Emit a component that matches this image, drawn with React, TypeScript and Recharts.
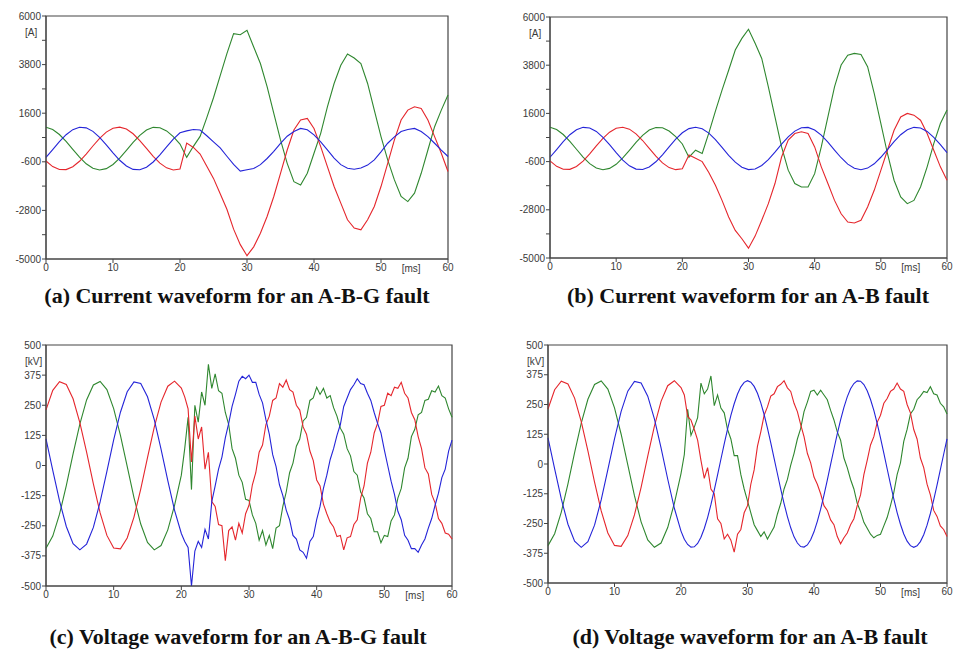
import { LineChart, Line, XAxis, YAxis, ReferenceArea } from 'recharts';

// time axes [ms]
const tCurrent = [
  0, 1, 2, 3, 4, 5, 6, 7, 8, 9, 10, 11, 12, 13, 14, 15, 16, 17, 18, 19, 20,
  21, 22, 23, 24, 25, 26, 27, 28, 29, 30, 31, 32, 33, 34, 35, 36, 37, 38, 39, 40,
  41, 42, 43, 44, 45, 46, 47, 48, 49, 50, 51, 52, 53, 54, 55, 56, 57, 58, 59, 60,
];
const tVoltage = [
  0, 1, 2, 3, 4, 5, 6, 7, 8, 9, 10, 11, 12, 13, 14, 15, 16, 17, 18, 19, 20,
  20.5, 21, 21.5, 22, 22.5, 23, 23.5, 24, 24.5, 25,
  25.5, 26, 26.5, 27, 27.5, 28, 28.5, 29, 29.5, 30,
  30.5, 31, 31.5, 32, 32.5, 33, 33.5, 34, 34.5, 35,
  35.5, 36, 36.5, 37, 37.5, 38, 38.5, 39, 39.5, 40,
  40.5, 41, 41.5, 42, 42.5, 43, 43.5, 44, 44.5, 45,
  45.5, 46, 46.5, 47, 47.5, 48, 48.5, 49, 49.5, 50,
  50.5, 51, 51.5, 52, 52.5, 53, 53.5, 54, 54.5, 55,
  55.5, 56, 56.5, 57, 57.5, 58, 58.5, 59, 59.5, 60,
];

// currents [A], pre-fault part (0..20 ms) is the same in (a) and (b)
const curPreRed = [-565, -815, -951, -954, -823, -576, -248, 115, 461, 743, 920, 968, 881, 669, 363, 7, -351, -659, -875, -968, -924];
const curPreGreen = [965, 861, 636, 322, -37, -392, -691, -893, -970, -910, -723, -434, -85, 277, 600, 838, 959, 945, 798, 540, 205];
const curPreBlue = [-402, -49, 311, 627, 856, 964, 936, 778, 510, 170, -193, -530, -792, -943, -961, -844, -609, -288, 73, 424, 715];

// (a) A-B-G fault, 21..60 ms
const aRed = [
  250, 50, -250, -800, -1350, -2050, -2750, -3650, -4350, -4850,
  -4450, -3830, -3075, -2170, -1120, -65, 840, 1290, 1365, 910,
  85, -820, -1720, -2470, -3225, -3600, -3680, -3225, -2625, -1720,
  -670, 390, 1290, 1740, 1890, 1815, 1290, 540, -215, -1040,
];
const aGreen = [
  -400, 100, 550, 1400, 2300, 3300, 4300, 5200, 5150, 5350,
  4600, 3850, 2800, 1590, 390, -670, -1500, -1650, -1120, -215,
  690, 1890, 2945, 3770, 4280, 4100, 3850, 2945, 1740, 540,
  -515, -1420, -2170, -2400, -2020, -1120, -65, 990, 1740, 2420,
];
const aBlue = [
  800, 860, 840, 580, 300, 30, -350, -720, -1020, -960,
  -900, -730, -450, -130, 230, 560, 770, 910, 850, 620,
  300, -60, -430, -730, -890, -940, -880, -750, -510, -150,
  240, 530, 770, 860, 910, 770, 540, 240, -70, -360,
];

// (b) A-B fault, 21..60 ms
const bRed = [
  -300, -450, -600, -1100, -1680, -2370, -3130, -3740, -4120, -4550,
  -4000, -3280, -2520, -1600, -390, 380, 680, 760, 680, 70,
  -840, -1600, -2370, -2980, -3360, -3400, -3280, -2670, -1910, -1000,
  -80, 830, 1440, 1600, 1520, 1290, 680, -80, -840, -1450,
];
const bGreen = [
  -400, -80, -230, 700, 1700, 2660, 3570, 4490, 5025, 5440,
  4800, 4110, 2815, 1440, 70, -990, -1600, -1760, -1760, -1150,
  70, 1440, 2815, 3810, 4260, 4340, 4290, 3730, 2510, 1140,
  -230, -1450, -2210, -2520, -2370, -1760, -840, 220, 1140, 1750,
];
const bBlue = [
  906, 970, 897, 699, 402, 49, -311, -627, -856, -964,
  -936, -778, -510, -170, 193, 530, 792, 943, 961, 844,
  609, 288, -73, -424, -715, -906, -970, -897, -699, -402,
  -49, 311, 627, 856, 964, 936, 778, 510, 170, -193,
];

// voltages [kV], pre-fault part (0..20 ms) is the same in (c) and (d)
const voltPreRed = [231, 312, 348, 336, 277, 178, 55, -76, -197, -290, -342, -346, -301, -214, -98, 33, 159, 263, 329, 350, 321];
const voltPreGreen = [-343, -293, -202, -83, 48, 172, 272, 334, 349, 315, 236, 125, -4, -133, -243, -319, -350, -332, -267, -165, -40];
const voltPreBlue = [110, -20, -147, -253, -324, -350, -326, -257, -151, -24, 106, 221, 306, 347, 340, 285, 190, 68, -63, -186, -282];

// (c) A-B-G fault, 20.5..60 ms
const cRed = [
  285, 235, 15, 205, 110, 160, -15, 55, -150, -170,
  -245, -250, -395, -270, -255, -310, -240, -280, -200, -165,
  -80, -30, 55, 85, 170, 205, 270, 280, 340, 325,
  355, 315, 305, 250, 230, 160, 130, 60, 20, -60,
  -85, -160, -200, -235, -255, -295, -290, -350, -300, -295,
  -245, -225, -135, -85, 10, 55, 135, 175, 245, 250,
  300, 290, 325, 320, 345, 300, 280, 220, 190, 120,
  70, -10, -35, -120, -155, -220, -240, -280, -285, -305,
];
const cGreen = [
  70, 200, -100, 250, 180, 305, 250, 420, 320, 380,
  310, 300, 220, 170, 70, 30, -40, -70, -140, -145,
  -205, -240, -310, -270, -330, -290, -345, -260, -250, -170,
  -110, -30, 10, 80, 110, 185, 200, 270, 280, 325,
  295, 320, 280, 290, 240, 205, 155, 130, 70, 40,
  -25, -40, -110, -135, -200, -220, -275, -275, -320, -290,
  -295, -230, -205, -135, -95, -10, 30, 120, 150, 210,
  220, 270, 275, 310, 305, 330, 290, 280, 235, 200,
];
const cBlue = [
  -315, -340, -500, -355, -315, -340, -265, -305, -150, -85,
  -15, 35, 115, 175, 245, 295, 350, 370, 360, 375,
  345, 345, 295, 260, 190, 130, 45, -5, -80, -125,
  -185, -225, -290, -305, -350, -360, -385, -315, -295, -225,
  -170, -95, -40, 25, 70, 125, 170, 245, 280, 315,
  335, 360, 340, 335, 300, 270, 220, 175, 135, 65,
  0, -65, -120, -190, -225, -290, -310, -345, -345, -360,
  -330, -305, -260, -220, -165, -115, -50, -15, 60, 105,
];

// (d) A-B fault, 20.5..60 ms
const dRed = [
  290, 200, 185, 145, 100, 15, -60, -15, -105, -125,
  -230, -250, -315, -295, -320, -370, -295, -275, -205, -175,
  -85, -25, 75, 135, 205, 240, 285, 295, 325, 335,
  350, 320, 305, 255, 220, 165, 115, 45, 5, -55,
  -85, -125, -175, -195, -235, -255, -305, -335, -310, -290,
  -255, -230, -175, -130, -45, 15, 80, 115, 175, 205,
  255, 275, 305, 315, 340, 315, 305, 250, 215, 145,
  105, 25, -15, -85, -130, -195, -220, -260, -275, -305,
];
const dGreen = [
  40, 230, 120, 155, 195, 340, 295, 315, 370, 245,
  290, 235, 215, 145, 105, 35, 35, -45, -105, -155,
  -205, -255, -280, -305, -285, -315, -290, -265, -210, -165,
  -105, -65, -5, 45, 105, 150, 220, 260, 305, 310,
  290, 310, 290, 270, 225, 185, 135, 100, 25, -15,
  -65, -105, -165, -200, -245, -270, -295, -310, -300, -295,
  -260, -225, -175, -120, -45, 5, 95, 145, 210, 230,
  270, 285, 305, 300, 325, 295, 290, 255, 240, 210,
];
const dBlue = [
  -316, -338, -349, -348, -334, -308, -271, -225, -171, -110,
  -46, 20, 85, 147, 204, 253, 294, 324, 343, 350,
  344, 326, 297, 257, 208, 151, 89, 24, -41, -106,
  -166, -221, -268, -306, -332, -347, -349, -340, -318, -285,
  -241, -190, -131, -68, -2, 63, 127, 185, 238, 282,
  316, 338, 349, 348, 334, 308, 271, 225, 171, 110,
  46, -20, -85, -147, -204, -253, -294, -324, -343, -350,
  -344, -326, -297, -257, -208, -151, -89, -24, 41, 106,
];

const xTicks = [0, 10, 20, 30, 40, 50, 60];
const currentTicks = [-5000, -3900, -2800, -1700, -600, 500, 1600, 2700, 3800, 4900, 6000];
const currentLabels = [-5000, -2800, -600, 1600, 3800, 6000];
const voltageTicks = [-500, -375, -250, -125, 0, 125, 250, 375, 500];

const captions = [
  '(a) Current waveform for an A-B-G fault',
  '(b) Current waveform for an A-B fault',
  '(c) Voltage waveform for an A-B-G fault',
  '(d) Voltage waveform for an A-B fault',
];

const RED = '#e5262c';
const GREEN = '#2f872f';
const BLUE = '#2424d8';
const AXIS = '#444';

const rows = (t: number[], red: number[], green: number[], blue: number[]) =>
  t.map((x, i) => ({ t: x, red: red[i], green: green[i], blue: blue[i] }));

const dataA = rows(tCurrent, [...curPreRed, ...aRed], [...curPreGreen, ...aGreen], [...curPreBlue, ...aBlue]);
const dataB = rows(tCurrent, [...curPreRed, ...bRed], [...curPreGreen, ...bGreen], [...curPreBlue, ...bBlue]);
const dataC = rows(tVoltage, [...voltPreRed, ...cRed], [...voltPreGreen, ...cGreen], [...voltPreBlue, ...cBlue]);
const dataD = rows(tVoltage, [...voltPreRed, ...dRed], [...voltPreGreen, ...dGreen], [...voltPreBlue, ...dBlue]);

const tickStyle = { fontSize: 10, fill: '#3a3a3a', fontFamily: '"Liberation Sans", Arial, sans-serif' };
const smallText: React.CSSProperties = {
  position: 'absolute',
  fontSize: 10,
  color: '#3a3a3a',
  fontFamily: '"Liberation Sans", Arial, sans-serif',
  lineHeight: '10px',
  whiteSpace: 'nowrap',
};

interface PanelProps {
  plotLeft: number;
  plotTop: number;
  plotWidth: number;
  plotHeight: number;
  data: { t: number; red: number; green: number; blue: number }[];
  yDomain: [number, number];
  yTicks: number[];
  yLabels: number[];
  unit: string;
}

const ML = 46;
const MT = 16;
const MR = 6;
const MB = 30;

const Panel = ({ plotLeft, plotTop, plotWidth, plotHeight, data, yDomain, yTicks, yLabels, unit }: PanelProps) => {
  return (
    <div style={{ position: 'absolute', left: plotLeft - ML, top: plotTop - MT }}>
      <LineChart
        width={plotWidth + ML + MR}
        height={plotHeight + MT + MB}
        data={data}
        margin={{ top: MT, right: MR, left: 6, bottom: 10 }}
      >
        <XAxis
          dataKey="t"
          type="number"
          domain={[0, 60]}
          ticks={xTicks}
          height={20}
          tickSize={4}
          tick={tickStyle}
          stroke={AXIS}
          tickMargin={1}
        />
        <YAxis
          type="number"
          domain={yDomain}
          ticks={yTicks}
          width={40}
          tickSize={4}
          tick={tickStyle}
          stroke={AXIS}
          tickMargin={1}
          allowDataOverflow
          interval={0}
          tickFormatter={(v: number) => (yLabels.includes(v) ? String(v) : '')}
        />
        <ReferenceArea x1={0} x2={60} y1={yDomain[0]} y2={yDomain[1]} fill="none" stroke={AXIS} strokeWidth={1.2} fillOpacity={0} />
        <Line type="linear" dataKey="green" stroke={GREEN} strokeWidth={1.1} dot={false} isAnimationActive={false} />
        <Line type="linear" dataKey="red" stroke={RED} strokeWidth={1.1} dot={false} isAnimationActive={false} />
        <Line type="linear" dataKey="blue" stroke={BLUE} strokeWidth={1.1} dot={false} isAnimationActive={false} />
      </LineChart>
      <div style={{ ...smallText, left: ML - 21, top: MT + 12 }}>{unit}</div>
      <div style={{ ...smallText, left: ML + plotWidth * 0.885, top: MT + plotHeight + 5 }}>[ms]</div>
    </div>
  );
};

const captionStyle: React.CSSProperties = {
  position: 'absolute',
  width: 480,
  textAlign: 'center',
  fontFamily: '"Liberation Serif", "Times New Roman", serif',
  fontWeight: 'bold',
  fontSize: 22,
  lineHeight: '22px',
  whiteSpace: 'nowrap',
  color: '#111',
};

const App = () => {
  return (
    <div style={{ position: 'relative', width: 953, height: 653, background: '#fff', overflow: 'hidden' }}>
      <style>{'body{margin:0}'}</style>
      <Panel plotLeft={46} plotTop={16} plotWidth={402} plotHeight={243} data={dataA}
        yDomain={[-5000, 6000]} yTicks={currentTicks} yLabels={currentLabels} unit="[A]" />
      <Panel plotLeft={550} plotTop={17} plotWidth={397} plotHeight={241} data={dataB}
        yDomain={[-5000, 6000]} yTicks={currentTicks} yLabels={currentLabels} unit="[A]" />
      <Panel plotLeft={46} plotTop={345} plotWidth={406} plotHeight={241} data={dataC}
        yDomain={[-500, 500]} yTicks={voltageTicks} yLabels={voltageTicks} unit="[kV]" />
      <Panel plotLeft={548} plotTop={345} plotWidth={399} plotHeight={238} data={dataD}
        yDomain={[-500, 500]} yTicks={voltageTicks} yLabels={voltageTicks} unit="[kV]" />
      <div style={{ ...captionStyle, left: 237 - 240, top: 285 }}>{captions[0]}</div>
      <div style={{ ...captionStyle, left: 748 - 240, top: 285 }}>{captions[1]}</div>
      <div style={{ ...captionStyle, left: 238 - 240, top: 626 }}>{captions[2]}</div>
      <div style={{ ...captionStyle, left: 750 - 240, top: 626 }}>{captions[3]}</div>
    </div>
  );
};

export default App;
